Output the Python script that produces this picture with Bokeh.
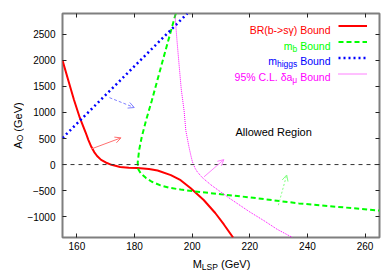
import math
from bokeh.plotting import figure
from bokeh.layouts import row, column
from bokeh.models import (Range1d, FixedTicker, LinearAxis, Label, Span, Arrow,
                          OpenHead, Legend, LegendItem)
from bokeh.embed import file_html
from bokeh.resources import INLINE

# ---------------- data ----------------
br_x = [155, 157, 159, 161, 163, 164, 165, 166, 167, 168.4, 170, 172, 175, 178, 181,
        185, 188, 192.6, 196, 199.5, 204, 208, 211, 214.2]
br_y = [2000, 1620, 1240, 900, 620, 470, 340, 240, 165, 90, 40, -5, -45, -60, -65,
        -85, -115, -203, -300, -456, -680, -930, -1150, -1400]

mb_x = [194.3, 190, 186, 184, 182.5, 181.6, 181.1, 181.3, 182.2, 184, 186, 189,
        192, 196, 201, 210, 220, 237, 250, 265]
mb_y = [2900, 2040, 1230, 850, 530, 280, 40, -90, -171, -260, -330, -400,
        -445, -480, -515, -570, -630, -745, -810, -882]

mh_x = [155, 198.3]
mh_y = [510, 2900]

amu_x = [194, 194.7, 195.4, 196.2, 197.2, 197.8, 198.9, 199.6, 200.1, 201, 201.8,
         203.5, 206.5, 210, 213.3, 220, 225, 229.4, 234.8]
amu_y = [2900, 2400, 1950, 1450, 1030, 650, 335, 160, 50, -70, -141,
         -250, -390, -530, -660, -910, -1080, -1240, -1400]

# arrows: (x_start, y_start, x_end, y_end)
arrow_br = [165, 300, 175.3, 513]
arrow_mh = [171.3, 1285, 179.9, 1095]
arrow_amu = [204.1, -236, 211, 95]
arrow_mb = [229.9, -780, 232.8, -200]

x_ticks = [160, 180, 200, 220, 240, 260]
y_ticks = [-1000, -500, 0, 500, 1000, 1500, 2000, 2500]

# ---------------- layout constants ----------------
FONT = "Liberation Sans"
LW = 24            # left strip (y title)
BH = 18            # bottom strip (x title)
W, H = 384 - LW, 270 - BH
ML, MR, MT, MB = 61 - LW, 5, 13, 15
FW, FH = W - ML - MR, H - MT - MB

WID = {' ': 0.278, 'B': 0.667, 'o': 0.556, 'u': 0.556, 'n': 0.556, 'd': 0.556,
       'm': 0.833, 'b': 0.556, 'h': 0.556, 'i': 0.222, 'g': 0.556, 's': 0.5,
       'μ': 0.576, 'M': 0.833, 'L': 0.556, 'S': 0.667, 'P': 0.667, 'A': 0.667,
       'O': 0.778, '(': 0.333, ')': 0.333, 'G': 0.778, 'e': 0.556, 'V': 0.667}

def tw(s, fs):
    return sum(WID.get(c, 0.556) for c in s) * fs

def lab(fig, x, y, text, fs, color, align="left", angle=0.0):
    fig.add_layout(Label(x=x, y=y, x_units="screen", y_units="screen", text=text,
                         text_font=FONT, text_font_size=f"{fs}px", text_color=color,
                         text_align=align, text_baseline="alphabetic", angle=angle))

def strip(w, h):
    f = figure(width=w, height=h, x_range=Range1d(0, 1), y_range=Range1d(0, 1),
               output_backend="svg", toolbar_location=None,
               x_axis_location=None, y_axis_location=None,
               min_border=0, min_border_left=0, min_border_right=0,
               min_border_top=0, min_border_bottom=0)
    f.outline_line_color = None
    f.grid.visible = False
    f.background_fill_color = "white"
    f.border_fill_color = "white"
    return f

# ---------------- main figure ----------------
p = figure(width=W, height=H, x_range=Range1d(155, 265), y_range=Range1d(-1400, 2900),
           output_backend="svg", toolbar_location=None,
           min_border_left=ML, min_border_right=MR, min_border_top=MT,
           min_border_bottom=MB)
p.grid.visible = False
p.background_fill_color = "white"
p.border_fill_color = "white"
p.outline_line_color = "#7f7f7f"
p.outline_line_width = 2

def style_axis(ax, labels=True):
    ax.axis_line_color = None
    ax.major_tick_in = 4
    ax.major_tick_out = 0
    ax.major_tick_line_color = "#222222"
    ax.major_tick_line_width = 1
    ax.minor_tick_line_color = None
    if labels:
        ax.major_label_text_font = FONT
        ax.major_label_text_font_size = "10px"
        ax.major_label_text_color = "#000000"
    else:
        ax.major_label_text_font_size = "0px"
        ax.major_label_standoff = 0

p.xaxis.ticker = FixedTicker(ticks=x_ticks)
p.yaxis.ticker = FixedTicker(ticks=y_ticks)
style_axis(p.xaxis[0])
style_axis(p.yaxis[0])
p.xaxis.major_label_standoff = 4
p.yaxis.major_label_standoff = 7

top_ax = LinearAxis(ticker=FixedTicker(ticks=x_ticks))
right_ax = LinearAxis(ticker=FixedTicker(ticks=y_ticks))
style_axis(top_ax, labels=False)
style_axis(right_ax, labels=False)
p.add_layout(top_ax, "above")
p.add_layout(right_ax, "right")

# zero line
p.add_layout(Span(location=0, dimension="width", line_color="#333333",
                  line_width=1, line_dash="4 4"))

# curves
r_br = p.line(br_x, br_y, line_color="#ff0000", line_width=2)
r_mb = p.line(mb_x, mb_y, line_color="#00ff00", line_width=2, line_dash="5 3")
r_mh = p.line(mh_x, mh_y, line_color="#0000ff", line_width=2.5, line_dash="2 3")
r_amu = p.line(amu_x, amu_y, line_color="#ff00ff", line_width=1, line_dash="1 1")

def add_arrow(a, color, dash="solid"):
    p.add_layout(Arrow(end=OpenHead(size=6, line_color=color, line_width=1),
                       x_start=a[0], y_start=a[1], x_end=a[2], y_end=a[3],
                       line_color=color, line_width=1, line_dash=dash))

add_arrow(arrow_br, "#ff7070")
add_arrow(arrow_mh, "#7f7fff", "3 2")
add_arrow(arrow_amu, "#ff80ff")
add_arrow(arrow_mb, "#80ff80", "2 2")

# Allowed region text
p.add_layout(Label(x=215, y=620, text="Allowed Region", text_font=FONT,
                   text_font_size="11px", text_color="black",
                   text_baseline="alphabetic"))

# legend texts (right aligned)
BIG, SUB = 10.5, 8.5
SUBDROP = 3
x_end = FW - 50
base0 = FH - 16.5
step = 15.7
bound_w = tw(" Bound", BIG)

lab(p, x_end, base0, "BR(b->sγ) Bound", BIG, "#ff0000", align="right")

b1 = base0 - step
lab(p, x_end, b1, "Bound", BIG, "#00ff00", align="right")
lab(p, x_end - bound_w, b1 - SUBDROP, "b", SUB, "#00ff00", align="right")
lab(p, x_end - bound_w - tw("b", SUB), b1, "m", BIG, "#00ff00", align="right")

b2 = base0 - 2 * step
lab(p, x_end, b2, "Bound", BIG, "#0000ff", align="right")
lab(p, x_end - bound_w, b2 - SUBDROP, "higgs", SUB, "#0000ff", align="right")
lab(p, x_end - bound_w - tw("higgs", SUB), b2, "m", BIG, "#0000ff", align="right")

b3 = base0 - 3 * step
lab(p, x_end, b3, "Bound", BIG, "#ff00ff", align="right")
lab(p, x_end - bound_w, b3 - SUBDROP, "μ", SUB, "#ff00ff", align="right")
lab(p, x_end - bound_w - tw("μ", SUB), b3, "95% C.L. δa", BIG, "#ff00ff", align="right")

# legend line samples
legend = Legend(items=[LegendItem(label=" ", renderers=[r]) for r in (r_br, r_mb, r_mh, r_amu)],
                location=(FW - 42, FH - 5 - 63), glyph_width=29, glyph_height=15,
                label_width=0, label_height=15, label_standoff=0, label_text_font_size="1px",
                padding=0, margin=0, spacing=1, border_line_color=None,
                background_fill_alpha=0)
p.add_layout(legend)

# ---------------- axis titles (in strips) ----------------
TF, TS = 11, 8.5

# x title strip, below the main figure (its frame is aligned with the main frame)
bx = strip(W, BH)
xt_w = tw("M", TF) + tw("LSP", TS) + tw(" (GeV)", TF)
x0 = FW / 2 - xt_w / 2
yb = 6.5
lab(bx, x0, yb, "M", TF, "black")
lab(bx, x0 + tw("M", TF), yb - 2.5, "LSP", TS, "black")
lab(bx, x0 + tw("M", TF) + tw("LSP", TS) + tw(" ", TF), yb, "(GeV)", TF, "black")

# y title strip, left of everything
ly = strip(LW, 270)
yt_w = tw("A", TF) + tw("O", TS) + tw(" (GeV)", TF)
frame_mid = 270 - (MT + FH / 2)
y0 = frame_mid - yt_w / 2
xb = 17
ang = math.pi / 2
lab(ly, xb, y0, "A", TF, "black", angle=ang)
lab(ly, xb + 2.5, y0 + tw("A", TF), "O", TS, "black", angle=ang)
lab(ly, xb, y0 + tw("A", TF) + tw("O", TS) + tw(" ", TF), "(GeV)", TF, "black", angle=ang)

layout = row(ly, column(p, bx, spacing=0), spacing=0)

open("out.html", "w").write(file_html(layout, INLINE))
